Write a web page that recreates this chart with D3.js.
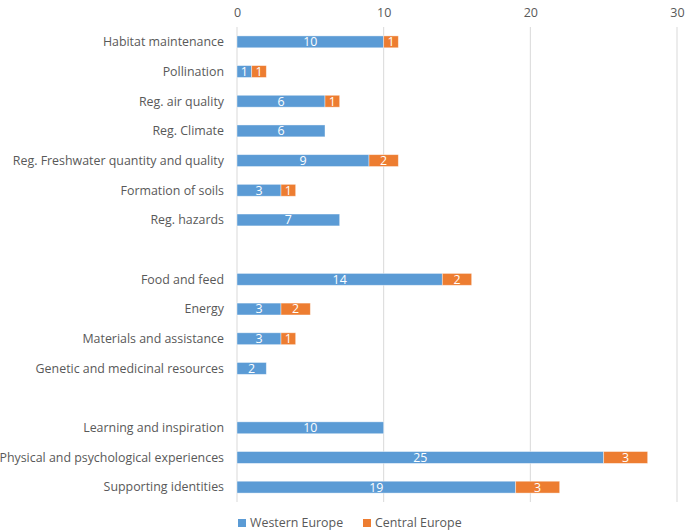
<!DOCTYPE html>
<html>
<head>
<meta charset="utf-8">
<script src="https://cdn.jsdelivr.net/npm/d3@7"></script>
<style>
	body { margin: 0; background: #fff; }
	svg text { font-family: "Open Sans", "Noto Sans", sans-serif; }
</style>
</head>
<body>
<div id="chart"></div>
<script>
// categories, '' = empty row between groups
const categories = [
	'Habitat maintenance', 'Pollination', 'Reg. air quality', 'Reg. Climate',
	'Reg. Freshwater quantity and quality', 'Formation of soils', 'Reg. hazards',
	'',
	'Food and feed', 'Energy', 'Materials and assistance', 'Genetic and medicinal resources',
	' ',
	'Learning and inspiration', 'Physical and psychological experiences', 'Supporting identities'
];
const western = [10, 1, 6, 6, 9, 3, 7, 0, 14, 3, 3, 2, 0, 10, 25, 19];
const central = [1, 1, 1, 0, 2, 1, 0, 0, 2, 2, 1, 0, 0, 0, 3, 3];
const seriesNames = ['Western Europe', 'Central Europe'];
const xTicks = [0, 10, 20, 30];

const W = 685, H = 532;
const m = { top: 27, right: 8, bottom: 30, left: 237 };
const colors = ['#5B9BD5', '#ED7D31'];

const svg = d3.select('#chart').append('svg')
	.attr('width', W)
	.attr('height', H);

const x = d3.scaleLinear().domain([0, 30]).range([m.left, 677]);
const y = d3.scaleBand().domain(categories).range([m.top, 502]).paddingInner(0.6).paddingOuter(0.3);

// grid
svg.append('g')
	.selectAll('line')
	.data(xTicks)
	.enter()
	.append('line')
	.attr('x1', d => x(d)).attr('x2', d => x(d))
	.attr('y1', m.top).attr('y2', 502)
	.attr('stroke', '#d9d9d9')
	.attr('stroke-width', 1);

// top axis labels
const xAxis = d3.axisTop(x).tickValues(xTicks).tickSize(0).tickPadding(0);
const gx = svg.append('g')
	.attr('transform', 'translate(0,13)')
	.call(xAxis);
gx.select('.domain').remove();
gx.selectAll('text')
	.attr('fill', '#595959')
	.style('font-size', '12.5px')
	.attr('dy', '0.32em');

// category labels
svg.append('g')
	.selectAll('text')
	.data(categories.filter(c => c.trim() !== ''))
	.enter()
	.append('text')
	.attr('x', 224)
	.attr('y', d => y(d) + y.bandwidth() / 2)
	.attr('dy', '0.35em')
	.attr('text-anchor', 'end')
	.attr('fill', '#595959')
	.style('font-size', '12.4px')
	.text(d => d);

// stacked data
const rows = categories.map((c, i) => ({ cat: c, w: western[i], c: central[i] }));
const stack = d3.stack().keys(['w', 'c'])(rows);

const barG = svg.append('g')
	.selectAll('g')
	.data(stack)
	.enter()
	.append('g')
	.attr('fill', (d, i) => colors[i]);

barG.selectAll('rect')
	.data(d => d.filter(p => p[1] - p[0] > 0))
	.enter()
	.append('rect')
	.attr('x', d => x(d[0]))
	.attr('y', d => y(d.data.cat))
	.attr('width', d => x(d[1]) - x(d[0]))
	.attr('height', y.bandwidth())
	.attr('stroke', '#ffffff')
	.attr('stroke-opacity', 0.5)
	.attr('stroke-width', 0.8);

barG.selectAll('text')
	.data(d => d.filter(p => p[1] - p[0] > 0))
	.enter()
	.append('text')
	.attr('x', d => (x(d[0]) + x(d[1])) / 2)
	.attr('y', d => y(d.data.cat) + y.bandwidth() / 2)
	.attr('dy', '0.36em')
	.attr('text-anchor', 'middle')
	.attr('fill', '#ffffff')
	.style('font-size', '12.4px')
	.text(d => d[1] - d[0]);

// legend
const legend = svg.append('g')
	.attr('transform', 'translate(238,523)');
const legendX = [0, 125];
seriesNames.forEach((name, i) => {
	const lg = legend.append('g').attr('transform', `translate(${legendX[i]},0)`);
	lg.append('rect')
		.attr('x', 0).attr('y', -4)
		.attr('width', 8).attr('height', 8)
		.attr('fill', colors[i]);
	lg.append('text')
		.attr('x', 12)
		.attr('y', 0)
		.attr('dy', '0.35em')
		.attr('fill', '#595959')
		.style('font-size', '12.4px')
		.text(name);
});
</script>
</body>
</html>
